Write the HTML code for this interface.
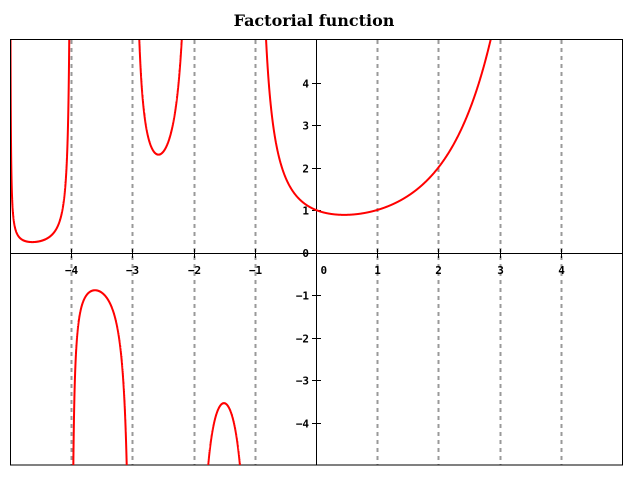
<!DOCTYPE html>
<html><head><meta charset="utf-8"><style>
html,body{margin:0;padding:0;background:#fff;width:640px;height:480px;overflow:hidden}
svg{display:block;position:absolute;left:0;top:0}
text{font-family:"DejaVu Sans Mono","Liberation Mono",monospace;font-size:11px;font-weight:bold;fill:#000}
</style></head><body>
<svg id="s" width="640" height="480" xmlns="http://www.w3.org/2000/svg">
<defs><clipPath id="cp"><rect x="11" y="40" width="611" height="425"/></clipPath></defs>
<text x="314" y="26" text-anchor="middle" style="font-family:'DejaVu Serif','Liberation Serif',serif;font-size:16px;font-weight:bold">Factorial function</text>
<g id="grid" stroke="#999" stroke-width="2" stroke-dasharray="4,4"></g>
<rect x="10.5" y="39.5" width="612" height="425.5" fill="none" stroke="#000" stroke-width="1"/>
<line x1="10" y1="253.5" x2="622" y2="253.5" stroke="#000"/>
<line x1="316.5" y1="39" x2="316.5" y2="465" stroke="#000"/>
<g id="lab"></g>
<g id="curve" fill="none" stroke="#f00" stroke-width="2" clip-path="url(#cp)"></g>
</svg>
<script>
var NS="http://www.w3.org/2000/svg";
function X(x){return 316+61.2*x}function Y(y){return 252.5-42.5*y}
function el(p,t,a,txt){var e=document.createElementNS(NS,t);for(var k in a)e.setAttribute(k,a[k]);if(txt!=null)e.textContent=txt;document.getElementById(p).appendChild(e);return e}
for(var i=-4;i<=4;i++){if(i==0)continue;var px=Math.round(X(i))+0.5;
el("grid","line",{x1:px,y1:40,x2:px,y2:465});}
for(var i=-4;i<=4;i++){var px=Math.round(X(i))+0.5;
el("lab","line",{x1:px,y1:249,x2:px,y2:258,stroke:"#000"});
el("lab","text",{x:i==0?px+4:px,y:274,"text-anchor":i==0?"start":"middle"},i<0?"\u2212"+(-i):""+i);}
for(var j=-4;j<=4;j++){if(j==0)continue;var py=Math.round(Y(j))+0.5;
el("lab","line",{x1:312,y1:py,x2:321,y2:py,stroke:"#000"});
el("lab","text",{x:309,y:py+4,"text-anchor":"end"},j<0?"\u2212"+(-j):""+j);}
el("lab","text",{x:309,y:257,"text-anchor":"end"},"0");
var g=[0.99999999999980993,676.5203681218851,-1259.1392167224028,771.32342877765313,-176.61502916214059,12.507343278686905,-0.13857109526572012,9.9843695780195716e-6,1.5056327351493116e-7];
function gamma(z){if(z<0.5)return Math.PI/(Math.sin(Math.PI*z)*gamma(1-z));z-=1;var x=g[0];for(var i=1;i<9;i++)x+=g[i]/(z+i);var t=z+7.5;return Math.sqrt(2*Math.PI)*Math.pow(t,z+0.5)*Math.exp(-t)*x;}
var segs=[[-5,-4],[-4,-3],[-3,-2],[-2,-1],[-1,5]];
segs.forEach(function(s){var pts=[];for(var k=1;k<4000;k++){var x=s[0]+(s[1]-s[0])*k/4000;var y=gamma(x+1);if(y>6)continue;if(y<-6)continue;pts.push(X(x).toFixed(2)+","+Y(y).toFixed(2));}
el("curve","polyline",{points:pts.join(" ")});});
</script>
</body></html>
